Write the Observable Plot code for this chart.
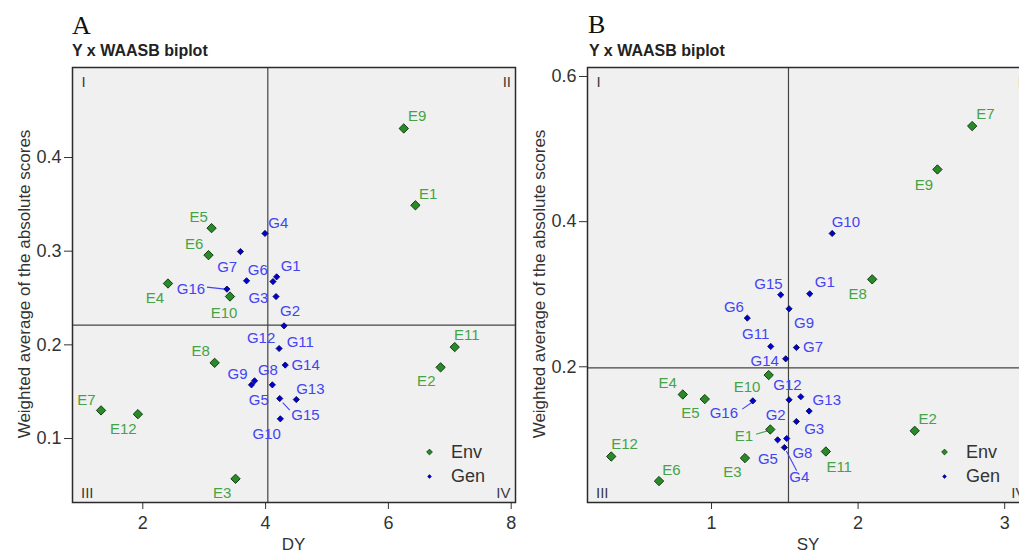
<!DOCTYPE html>
<html><head><meta charset="utf-8">
<script src="https://cdn.jsdelivr.net/npm/d3@7"></script>
<script src="https://cdn.jsdelivr.net/npm/@observablehq/plot@0.6"></script>
<style>
html,body{margin:0;padding:0;background:#fff;overflow:hidden;width:1019px;height:552px;}
#wrap{position:relative;width:1100px;height:552px;font-family:"Liberation Sans",Arial,sans-serif;}
.panel{position:absolute;top:0;}
#overlay{position:absolute;left:0;top:0;pointer-events:none;}
</style></head>
<body>
<div id="wrap">
  <div class="panel" id="pA" style="left:0px"></div>
  <div class="panel" id="pB" style="left:515px"></div>
</div>
<script>
// ---------- data ----------
const envNames = ["E1","E2","E3","E4","E5","E6","E7","E8","E9","E10","E11","E12"];
const genNames = ["G1","G2","G3","G4","G5","G6","G7","G8","G9","G10","G11","G12","G13","G14","G15","G16"];

// Panel A: DY vs WAASB
const envDY      = [6.44, 6.85, 3.51, 2.41, 3.12, 3.07, 1.32, 3.17, 6.25, 3.42, 7.08, 1.92];
const envWaasbA  = [0.349, 0.176, 0.057, 0.2655, 0.3246, 0.2958, 0.130, 0.1808, 0.431, 0.2516, 0.1976, 0.126];
const genDY      = [4.18, 4.30, 4.17, 3.99, 3.82, 3.69, 3.59, 4.11, 3.77, 4.24, 4.12, 4.22, 4.50, 4.32, 4.23, 3.37];
const genWaasbA  = [0.2726, 0.2203, 0.2516, 0.3189, 0.1616, 0.2684, 0.2996, 0.1573, 0.1573, 0.121, 0.2676, 0.1961, 0.1416, 0.1784, 0.1427, 0.2595];
const meanDY = 4.036, meanWaasbA = 0.2211;

// Panel B: SY vs WAASB
const envSY      = [1.401, 2.386, 1.228, 0.804, 0.954, 0.642, 2.778, 2.096, 2.541, 1.390, 1.780, 0.316];
const envWaasbB  = [0.1136, 0.1118, 0.0742, 0.1618, 0.1555, 0.0425, 0.5317, 0.3205, 0.4719, 0.1886, 0.0833, 0.0764];
const genSY      = [1.670, 1.579, 1.666, 1.497, 1.451, 1.244, 1.579, 1.513, 1.529, 1.823, 1.404, 1.529, 1.609, 1.506, 1.472, 1.282];
const genWaasbB  = [0.3006, 0.1246, 0.1390, 0.0888, 0.0994, 0.2671, 0.2266, 0.1012, 0.2799, 0.3837, 0.2280, 0.1545, 0.1587, 0.2110, 0.2992, 0.1531];
const meanSY = 1.525, meanWaasbB = 0.1986;

const xTicksA = [2, 4, 6, 8], yTicksA = [0.1, 0.2, 0.3, 0.4];
const xTicksB = [1, 2, 3],    yTicksB = [0.2, 0.4, 0.6];
const quadrants = ["I", "II", "III", "IV"];
const legendLabels = ["Env", "Gen"];

// ---------- layout (label nudges in px, leader segments in px) ----------
const offA = {
  E1:[12.7,-11.4],E2:[-14.3,14.3],E3:[-13.3,14.4],E4:[-13,14.6],E5:[-13,-11.3],E6:[-14.3,-11.3],
  E7:[-14.7,-10.7],E8:[-14,-11.3],E9:[13.4,-12.7],E10:[-6,16.6],E11:[12,-12],E12:[-14.6,15.4],
  G1:[14,-10.3],G2:[6,-15],G3:[-17.6,1.3],G4:[13.3,-10],G5:[4.3,19.3],G6:[11.3,-10.7],G7:[-13.3,15.3],
  G8:[-4.4,-14.7],G9:[-14,-10.7],G10:[-13.7,15.3],G11:[27.3,60.3],G12:[-18,-10],G13:[14,-10.4],
  G14:[20.3,0],G15:[25.7,16.3],G16:[-36,0]
};
const leadA = {G16:[-2,0,-20,-2], G15:[3,4,10,11.6]};
const offB = {
  E1:[-26.4,6.3],E2:[13,-11.7],E3:[-12.6,14.4],E4:[-15,-11],E5:[-14.3,14.4],E6:[12.3,-11.3],
  E7:[13.3,-12],E8:[-14.6,14.6],E9:[-13.6,15.6],E10:[-21.6,12.6],E11:[13.3,15.3],E12:[13.3,-12.4],
  G1:[15,-12],G2:[-20.7,-6.4],G3:[5,18.4],G4:[15,30],G5:[-9.7,19.3],G6:[-13.4,-10.6],G7:[16.6,0],
  G8:[15.7,15],G9:[15,14.3],G10:[13.7,-11],G11:[-15,-12.4],G12:[-1.6,-14.7],G13:[26,3.3],
  G14:[-21,2],G15:[-12.3,-10.7],G16:[-29,12]
};
const leadB = {G16:[0.4,0.7,-10.6,8.3], E1:[-2.6,1.4,-14.3,4.7], G4:[2,3.5,12.3,23.3]};

const ENV_FILL = "#2a8a2a", ENV_STROKE = "#123d12", ENV_TEXT = "#45a345";
const GEN_FILL = "#0000d0", GEN_STROKE = "#00004a", GEN_TEXT = "#4343f2";
const fmt = d => String(d);

function makePanel(el, cfg) {
  const W = 530, H = 552, mL = 72, mR = 15, mT = 67, mB = 50;
  const innerW = W - mL - mR, innerH = H - mT - mB;
  const kx = (cfg.xDomain[1] - cfg.xDomain[0]) / innerW;
  const ky = (cfg.yDomain[1] - cfg.yDomain[0]) / innerH;
  const env = envNames.map((n, i) => ({name: n, x: cfg.envX[i], y: cfg.envY[i], t: "env"}));
  const gen = genNames.map((n, i) => ({name: n, x: cfg.genX[i], y: cfg.genY[i], t: "gen"}));
  const all = env.concat(gen);
  const leaders = all.filter(d => cfg.lead[d.name]).map(d => {
    const s = cfg.lead[d.name];
    return {x1: d.x + s[0]*kx, y1: d.y - s[1]*ky, x2: d.x + s[2]*kx, y2: d.y - s[3]*ky,
            c: d.t === "env" ? ENV_TEXT : GEN_TEXT};
  });
  const labels = all.map(d => Plot.text([d], {
    x: "x", y: "y", text: "name", dx: cfg.off[d.name][0], dy: cfg.off[d.name][1],
    fill: d.t === "env" ? ENV_TEXT : GEN_TEXT, fontSize: 15
  }));
  const q = {fill: "#3a3a3a", fontSize: 15, lineAnchor: "middle"};
  const plot = Plot.plot({
    width: W, height: H,
    marginLeft: mL, marginRight: mR, marginTop: mT, marginBottom: mB,
    style: {fontFamily: '"Liberation Sans", Arial, sans-serif', fontSize: "18px", color: "#333", background: "transparent", overflow: "visible"},
    x: {domain: cfg.xDomain, ticks: cfg.xTicks, tickFormat: fmt, tickSize: 7, tickPadding: 7, label: null},
    y: {domain: cfg.yDomain, ticks: cfg.yTicks, tickFormat: fmt, tickSize: 8, tickPadding: 3, label: null},
    marks: [
      Plot.frame({fill: "#f0f0f0"}),
      Plot.ruleX([cfg.meanX], {stroke: "#444", strokeWidth: 1.2}),
      Plot.ruleY([cfg.meanY], {stroke: "#444", strokeWidth: 1.2}),
      Plot.link(leaders, {x1: "x1", y1: "y1", x2: "x2", y2: "y2", stroke: "c", strokeWidth: 1.1}),
      Plot.dot(env, {x: "x", y: "y", symbol: "diamond2", r: 4.2, fill: ENV_FILL, stroke: ENV_STROKE, strokeWidth: 1}),
      Plot.dot(gen, {x: "x", y: "y", symbol: "diamond2", r: 2.8, fill: GEN_FILL, stroke: GEN_STROKE, strokeWidth: 0.8}),
      ...labels,
      Plot.text([quadrants[0]], {frameAnchor: "top-left", text: d => d, textAnchor: "start", dx: 9, dy: 15, ...q}),
      Plot.text([quadrants[1]], {frameAnchor: "top-right", text: d => d, textAnchor: "end", dx: -4.5, dy: 15, ...q}),
      Plot.text([quadrants[2]], {frameAnchor: "bottom-left", text: d => d, textAnchor: "start", dx: 8.5, dy: -9.5, ...q}),
      Plot.text([quadrants[3]], {frameAnchor: "bottom-right", text: d => d, textAnchor: "end", dx: -5, dy: -9.5, ...q}),
      Plot.dot([0], {frameAnchor: "bottom-right", dx: -86, dy: -50.5, symbol: "diamond2", r: 2.6, fill: ENV_FILL, stroke: ENV_STROKE, strokeWidth: 0.8}),
      Plot.dot([0], {frameAnchor: "bottom-right", dx: -86, dy: -26, symbol: "diamond2", r: 1.7, fill: GEN_FILL, stroke: GEN_STROKE, strokeWidth: 0.6}),
      Plot.text([legendLabels[0]], {frameAnchor: "bottom-right", text: d => d, dx: -64.5, dy: -50.5, textAnchor: "start", fontSize: 18, fill: "#333", lineAnchor: "middle"}),
      Plot.text([legendLabels[1]], {frameAnchor: "bottom-right", text: d => d, dx: -64.5, dy: -26, textAnchor: "start", fontSize: 18, fill: "#333", lineAnchor: "middle"}),
      Plot.frame({stroke: "#2b2b2b", strokeWidth: 1.5})
    ]
  });
  el.appendChild(plot);
}

makePanel(document.getElementById("pA"), {
  xDomain: [0.855, 8.07], yDomain: [0.0317, 0.4961], xTicks: xTicksA, yTicks: yTicksA,
  envX: envDY, envY: envWaasbA, genX: genDY, genY: genWaasbA,
  meanX: meanDY, meanY: meanWaasbA, off: offA, lead: leadA
});
makePanel(document.getElementById("pB"), {
  xDomain: [0.154, 3.176], yDomain: [0.013, 0.6124], xTicks: xTicksB, yTicks: yTicksB,
  envX: envSY, envY: envWaasbB, genX: genSY, genY: genWaasbB,
  meanX: meanSY, meanY: meanWaasbB, off: offB, lead: leadB
});

// ---------- titles & axis titles ----------
const svg = d3.select("#wrap").append("svg").attr("id", "overlay").attr("width", 1100).attr("height", 552);
const sans = '"Liberation Sans", Arial, sans-serif';
const serif = '"Liberation Serif", "Times New Roman", serif';
const titles = [
  {letter: "A", lx: 72, ly: 34, sx: 72, sy: 55.5, yx: 30, xx: 293.5, xt: "DY"},
  {letter: "B", lx: 588, ly: 33, sx: 589, sy: 55.5, yx: 545, xx: 808, xt: "SY"}
];
const subtitle = "Y x WAASB biplot";
const yTitle = "Weighted average of the absolute scores";
titles.forEach(t => {
  svg.append("text").attr("x", t.lx).attr("y", t.ly).attr("font-family", serif).attr("font-size", 26).attr("fill", "#111").text(t.letter);
  svg.append("text").attr("x", t.sx).attr("y", t.sy).attr("font-family", sans).attr("font-weight", "bold").attr("font-size", 16).attr("fill", "#222").text(subtitle);
  svg.append("text").attr("transform", `translate(${t.yx},284) rotate(-90)`).attr("text-anchor", "middle").attr("font-family", sans).attr("font-size", 17).attr("fill", "#333").text(yTitle);
  svg.append("text").attr("x", t.xx).attr("y", 549.5).attr("text-anchor", "middle").attr("font-family", sans).attr("font-size", 17).attr("fill", "#333").text(t.xt);
});
</script>
</body></html>
